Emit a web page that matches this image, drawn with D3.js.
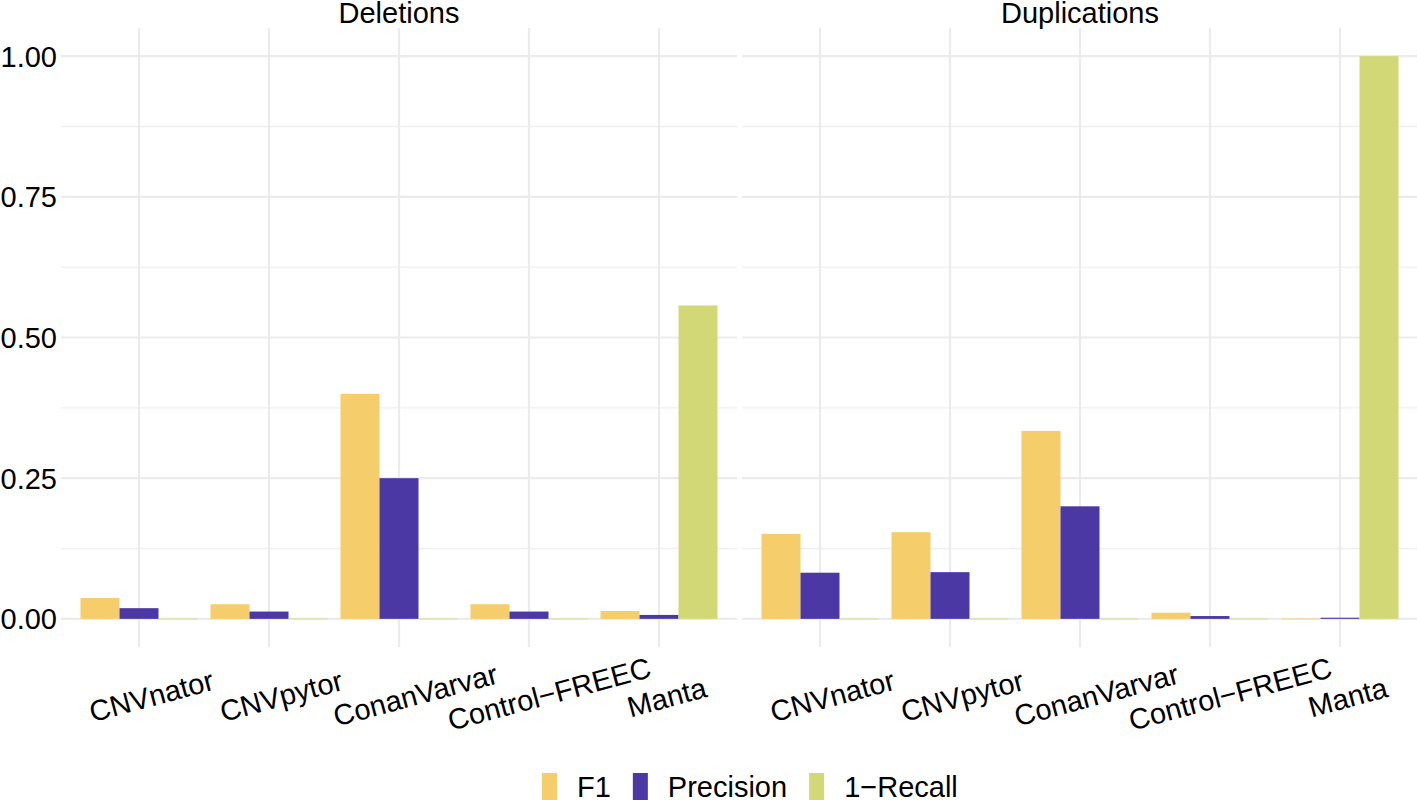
<!DOCTYPE html>
<html>
<head>
<meta charset="utf-8">
<script src="https://cdn.jsdelivr.net/npm/d3@7"></script>
<style>
  html, body { margin: 0; padding: 0; background: #fff; }
  svg { display: block; }
  text { font-family: "Liberation Sans", Arial, Helvetica, sans-serif; fill: #000; }
</style>
</head>
<body>
<svg id="chart" width="1417" height="800"></svg>
<script>
// ---- data ----
const panels = ["Deletions", "Duplications"];
const tools = ["CNVnator", "CNVpytor", "ConanVarvar", "Control\u2212FREEC", "Manta"];
const metrics = ["F1", "Precision", "1\u2212Recall"];
const delF1        = [0.037, 0.026, 0.400, 0.026, 0.014];
const delPrecision = [0.019, 0.013, 0.250, 0.013, 0.007];
const delRecallInv = [0.000, 0.000, 0.000, 0.000, 0.557];
const dupF1        = [0.151, 0.154, 0.334, 0.011, 0.000];
const dupPrecision = [0.082, 0.083, 0.200, 0.005, 0.002];
const dupRecallInv = [0.000, 0.000, 0.000, 0.000, 1.000];
const yTicks = [0, 0.25, 0.5, 0.75, 1.0];
const yMinor = [0.125, 0.375, 0.625, 0.875];
const colors = ["#F6CD6B", "#4C38A5", "#D3D876"];

const panelValues = [
  [delF1, delPrecision, delRecallInv],
  [dupF1, dupPrecision, dupRecallInv]
];

// ---- layout ----
const svg = d3.select("#chart");
const fs = 29;
const panelRanges = [[61, 737], [742, 1418]];
const y = d3.scaleLinear().domain([-0.05, 1.05]).range([647, 28]);
const color = d3.scaleOrdinal().domain(metrics).range(colors);

// y-axis labels (left panel only)
svg.append("g").selectAll("text").data(yTicks).join("text")
  .attr("x", 57).attr("y", d => y(d))
  .attr("dy", "0.36em")
  .attr("text-anchor", "end")
  .attr("font-size", fs)
  .text(d => d3.format(".2f")(d));

panels.forEach((pname, pi) => {
  const [x0, x1] = panelRanges[pi];
  const x = d3.scalePoint().domain(tools).range([x0, x1]).padding(0.6);
  const step = x.step();
  const inner = d3.scaleBand().domain(metrics).range([-0.45 * step, 0.45 * step]);
  const g = svg.append("g");

  // minor grid
  g.selectAll("line.minor").data(yMinor).join("line")
    .attr("x1", x0).attr("x2", x1)
    .attr("y1", d => y(d)).attr("y2", d => y(d))
    .attr("stroke", "#EFEFEF").attr("stroke-width", 1.3);
  // major grid
  g.selectAll("line.major").data(yTicks).join("line")
    .attr("x1", x0).attr("x2", x1)
    .attr("y1", d => y(d)).attr("y2", d => y(d))
    .attr("stroke", "#EBEBEB").attr("stroke-width", 2.2);
  g.selectAll("line.vx").data(tools).join("line")
    .attr("x1", d => x(d)).attr("x2", d => x(d))
    .attr("y1", y.range()[1]).attr("y2", y.range()[0])
    .attr("stroke", "#EBEBEB").attr("stroke-width", 2.2);

  // bars
  const vals = panelValues[pi];
  const bars = [];
  tools.forEach((t, ti) => {
    metrics.forEach((m, mi) => {
      bars.push({ tool: t, metric: m, value: vals[mi][ti] });
    });
  });
  g.selectAll("rect.bar").data(bars).join("rect")
    .attr("x", d => x(d.tool) + inner(d.metric))
    .attr("width", inner.bandwidth())
    .attr("y", d => d.value > 0 ? y(d.value) : y(0) - 0.75)
    .attr("height", d => d.value > 0 ? y(0) - y(d.value) : 1.5)
    .attr("fill", d => color(d.metric))
    .attr("fill-opacity", d => d.value > 0 ? 1 : 0.45);

  // strip title
  svg.append("text")
    .attr("x", (x0 + x1) / 2).attr("y", 23)
    .attr("text-anchor", "middle")
    .attr("font-size", fs)
    .text(pname);

  // x labels rotated
  tools.forEach(t => {
    const lg = svg.append("g")
      .attr("transform", `translate(${x(t)},${699}) rotate(-15)`);
    const txt = lg.append("text")
      .attr("text-anchor", "middle")
      .attr("dy", "0.36em")
      .attr("font-size", fs)
      .text(t);
    const w = txt.node().getComputedTextLength();
    txt.attr("x", 0.1 * w);
  });
});

// legend
const legend = svg.append("g");
const keyW = 15, gapKT = 20, gapTK = 22;
let cx = 0;
metrics.forEach((m, i) => {
  const kx = cx;
  const t = legend.append("text")
    .attr("x", kx + keyW + gapKT).attr("y", 797)
    .attr("font-size", fs)
    .text(m);
  const w = t.node().getComputedTextLength();
  legend.append("rect")
    .attr("x", kx).attr("y", 773)
    .attr("width", keyW).attr("height", 27)
    .attr("fill", color(m));
  cx = kx + keyW + gapKT + w + gapTK;
});
legend.attr("transform", `translate(${542},0)`);
</script>
</body>
</html>
